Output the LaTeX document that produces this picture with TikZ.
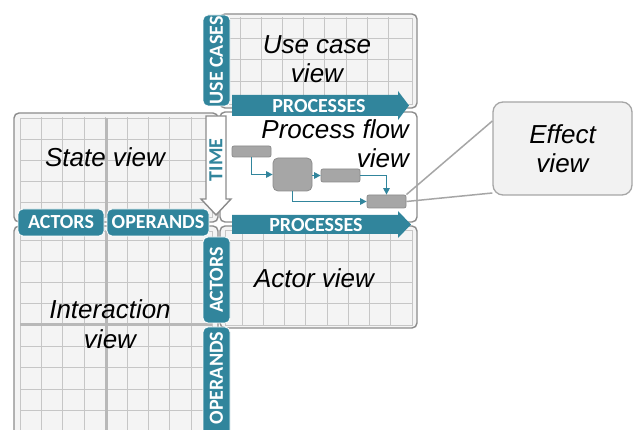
\documentclass[tikz,border=0pt]{standalone}
\usepackage{fontspec}
\setmainfont{Liberation Sans}
\newfontfamily\tabfont{Carlito}
\usetikzlibrary{arrows.meta}
\definecolor{tealc}{HTML}{31859C}
\definecolor{panelfill}{HTML}{F4F4F4}
\definecolor{gridc}{HTML}{C6C6C6}
\definecolor{thickc}{HTML}{B8B8B8}
\definecolor{borderc}{HTML}{8C8C8C}
\definecolor{boxfill}{HTML}{A6A6A6}
\definecolor{boxline}{HTML}{8C8C8C}
\definecolor{calloutc}{HTML}{A6A6A6}
\definecolor{effectfill}{HTML}{F2F2F2}
\tikzset{
 panel/.style={draw=borderc, line width=1.4pt, rounded corners=5pt, fill=panelfill},
 gridline/.style={draw=gridc, line width=0.8pt},
 thickline/.style={draw=thickc, line width=3pt},
 tabfontstyle/.style={font=\tabfont\bfseries\fontsize{20}{20}\selectfont},
 tabbox/.style={fill=tealc, draw=white, line width=0.8pt, rounded corners=5pt, text=white, tabfontstyle, inner sep=0pt},
 tablabel/.style={text=white, tabfontstyle, inner sep=0pt},
 pbox/.style={fill=boxfill, draw=boxline, line width=0.8pt, rounded corners=2pt, inner sep=0pt},
 bigbox/.style={fill=boxfill, draw=boxline, line width=0.8pt, rounded corners=5pt, inner sep=0pt},
 flow/.style={draw=tealc, line width=1.4pt, -{Triangle[length=6.5pt,width=6.5pt]}},
 callout/.style={draw=calloutc, line width=1.5pt},
 viewlabel/.style={font=\itshape\fontsize{26}{29.5}\selectfont, inner sep=0pt},
 effectbox/.style={draw=calloutc, fill=effectfill, line width=1.3pt, rounded corners=10pt, inner sep=0pt, viewlabel, align=center},
}
\begin{document}
\begin{tikzpicture}[x=1pt,y=-1pt]
\useasboundingbox (0,0) rectangle (633,430);
\fill[white] (0,0) rectangle (633,430);

% ---------- State view panel
\draw[panel] (14,113) rectangle (218,222);
\begin{scope}
\clip (20,118) rectangle (212,217);
\foreach \i in {1,...,8} \draw[gridline] ({20+21.4*\i},113) -- ({20+21.4*\i},222);
\foreach \j in {1,...,4} \draw[gridline] (14,{118+21.2*\j}) -- (218,{118+21.2*\j});
\end{scope}
\draw[gridline] (20,118) rectangle (212,217);
\draw[thickline] (106,118) -- (106,217);

% ---------- Interaction view panel
\draw[panel] (14,226) rectangle (218,445);
\begin{scope}
\clip (20,231) rectangle (212,440);
\foreach \i in {1,...,8} \draw[gridline] ({20+21.4*\i},226) -- ({20+21.4*\i},445);
\foreach \j in {0,...,9} \draw[gridline] (14,{240+21.3*\j}) -- (218,{240+21.3*\j});
\end{scope}
\draw[gridline] (20,231) rectangle (212,440);
\draw[thickline] (106,231) -- (106,440);
\draw[thickline] (20,325) -- (212,325);

% ---------- Use case view panel
\draw[panel] (220,14) rectangle (417,108);
\begin{scope}
\clip (225,18) rectangle (412,104);
\foreach \i in {0,...,7} \draw[gridline] ({240+21.2*\i},14) -- ({240+21.2*\i},108);
\foreach \j in {1,...,3} \draw[gridline] (220,{16.5+21.6*\j}) -- (417,{16.5+21.6*\j});
\end{scope}
\draw[gridline] (225,18) rectangle (412,104);

% ---------- Process flow view panel
\draw[panel, fill=white] (220,112) rectangle (417,222);

% ---------- Actor view panel
\draw[panel] (220,226) rectangle (417,328);
\begin{scope}
\clip (225,230) rectangle (412,325);
\foreach \i in {0,...,7} \draw[gridline] ({242+21.25*\i},226) -- ({242+21.25*\i},328);
\foreach \j in {0,...,3} \draw[gridline] (220,{240+21.25*\j}) -- (417,{240+21.25*\j});
\end{scope}
\draw[gridline] (225,230) rectangle (412,325);

% ---------- TIME arrow
\draw[draw=borderc, fill=white, line width=1.4pt] (206,116) -- (206,199) -- (201,199) -- (216,215) -- (231,199) -- (226,199) -- (226,116) -- cycle;
\node[tablabel, text=tealc, rotate=90] (timeLabel) at (216,160) {TIME};

% ---------- tabs
\node[tabbox, rotate=90, minimum width=91pt, minimum height=27pt] (tabUseCases) at (216.5,60.5) {USE CASES};
\node[tabbox, minimum width=86pt, minimum height=27pt] (tabActorsH) at (61,222.5) {ACTORS};
\node[tabbox, minimum width=102pt, minimum height=27pt] (tabOperandsH) at (158,222.5) {OPERANDS};
\node[tabbox, rotate=90, minimum width=86pt, minimum height=27pt] (tabActorsV) at (216.5,280) {ACTORS};
\draw[tabbox] (203,445) rectangle (230,327);
\node[tablabel, rotate=90] (tabOperandsV) at (216.5,378) {OPERANDS};

% ---------- PROCESSES arrows
\fill[tealc] (232,95) -- (398,95) -- (398,91) -- (409,105.5) -- (398,120) -- (398,116) -- (232,116) -- cycle;
\node[tablabel] (procTop) at (319,106) {PROCESSES};
\fill[tealc] (232,215) -- (398,215) -- (398,211) -- (411,224.5) -- (398,238) -- (398,234) -- (232,234) -- cycle;
\node[tablabel] (procBottom) at (316,225) {PROCESSES};

% ---------- process flow
\node[pbox, minimum width=39pt, minimum height=11pt] (p1) at (251.5,151.5) {};
\node[bigbox, minimum width=39pt, minimum height=33pt] (big) at (292.5,174.5) {};
\node[pbox, minimum width=39pt, minimum height=13pt] (p2) at (340.5,175.5) {};
\node[pbox, minimum width=39pt, minimum height=13pt] (p3) at (386.5,201.5) {};
\draw[flow] (p1.south) |- (big.west);
\draw[flow] (big.east |- p2.west) -- (p2.west);
\draw[flow] (p2.east) -| (p3.north);
\draw[flow] (big.south) |- (p3.west);

% ---------- Effect view callout
\node[effectbox, minimum width=139pt, minimum height=93pt] (effect) at (562.5,148.5) {Effect\\view};
\draw[callout] (p3.north east) -- ([yshift=27.5pt]effect.west);
\draw[callout] (p3.east) -- ([yshift=-44.5pt]effect.west);

% ---------- view labels
\node[viewlabel, align=center] (ucLabel) at (317,59) {Use case\\view};
\node[viewlabel, align=right, anchor=north east] (pfLabel) at (409,119) {Process flow\\view};
\node[viewlabel, anchor=base] (stLabel) at (105,167) {State view};
\node[viewlabel, anchor=base] (acLabel) at (314,288) {Actor view};
\node[viewlabel, align=center] (inLabel) at (110,324) {Interaction\\view};
\end{tikzpicture}
\end{document}
